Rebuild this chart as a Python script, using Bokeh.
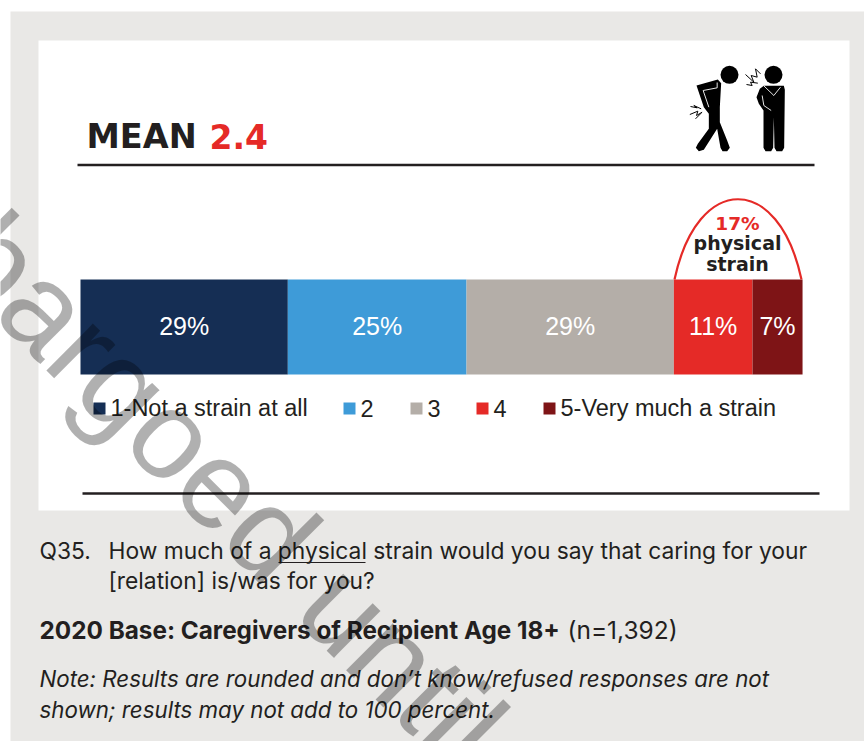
from bokeh.plotting import figure
from bokeh.models import Range1d
from bokeh.core.properties import value
from bokeh.embed import file_html
from bokeh.resources import INLINE

categories = ["1-Not a strain at all", "2", "3", "4", "5-Very much a strain"]
shares = [29, 25, 29, 11, 7]
share_labels = ["29%", "25%", "29%", "11%", "7%"]
colors = ["#152e54", "#3e9bd8", "#b4aea8", "#e52a27", "#7e1416"]
mean_label = "MEAN"
mean_value = "2.4"
net_label = "17%"
question = ["Q35.", "How much of a physical strain would you say that caring for your", "[relation] is/was for you?"]
base_bold = "2020 Base: Caregivers of Recipient Age 18+"
base_n = "(n=1,392)"
note = ["Note: Results are rounded and don\u2019t know/refused responses are not",
        "shown; results may not add to 100 percent."]
watermark = "Embargoed until"

W, H = 864, 741
p = figure(width=W, height=H, output_backend="svg", toolbar_location=None,
           x_range=Range1d(0, W), y_range=Range1d(H, 0),
           x_axis_type=None, y_axis_type=None, min_border=0,
           outline_line_color=None, background_fill_color="white")
p.grid.visible = False
UNIT = 7.149
p.extra_x_ranges["share"] = Range1d(-80 / UNIT, (W - 80) / UNIT)

BODY = value("Inter")
ARIAL = value("Liberation Sans")
DEJAVU = value("DejaVu Sans")
INK = "#231f20"
RISE = 0.4  # Bokeh sets alphabetic text this far (in ems) below its anchor

def txt(x, y, s, size, color=INK, font=ARIAL, style="normal", align="left", **kw):
    p.text([x], [y - RISE * size], text=[s], text_font=font, text_font_size=f"{size}px", text_font_style=style,
           text_color=color, text_align=align, text_baseline="alphabetic", **kw)

# panels
p.quad(left=[10], right=[W], top=[11], bottom=[H], fill_color="#e9e8e6", line_color=None)
p.quad(left=[38], right=[849], top=[40], bottom=[510], fill_color="white", line_color=None)
p.line([77, 814], [164.5, 164.5], line_color=INK, line_width=2.5)
p.line([82, 819], [493, 493], line_color=INK, line_width=2.5)

# title
txt(86, 149, mean_label, 33.5, font=DEJAVU, style="bold")
txt(209, 149, mean_value, 33, font=DEJAVU, color=colors[3], style="bold")

# stacked bar
starts, ends = [], []
acc = 0
for v in shares:
    starts.append(acc); acc += v; ends.append(acc)
mids = [(a + b) / 2 for a, b in zip(starts, ends)]
p.quad(left=starts, right=ends, top=[279] * 5, bottom=[374] * 5, fill_color=colors, line_color=None,
       x_range_name="share")
p.text(mids, [335 - RISE * 25] * 5, text=share_labels, x_range_name="share", text_color="white", text_font=ARIAL,
       text_font_size="25px", text_align="center", text_baseline="alphabetic")

# arch
p.bezier(x0=[674], y0=[279], x1=[801], y1=[279], cx0=[697], cy0=[172], cx1=[778], cy1=[172],
         line_color=colors[3], line_width=2.2)
txt(737, 230, net_label, 18.5, font=DEJAVU, color=colors[3], style="bold", align="center")
txt(737, 250, "physical", 19, font=DEJAVU, style="bold", align="center")
txt(737, 271, "strain", 19, font=DEJAVU, style="bold", align="center")

# legend
sq_x = [93, 343, 410, 476, 543]
p.quad(left=sq_x, right=[x + 12 for x in sq_x], top=[402] * 5, bottom=[414] * 5, fill_color=colors, line_color=None)
p.text([x + 17 for x in sq_x], [417 - RISE * 23.5] * 5, text=categories, text_color=INK, text_font=ARIAL,
       text_font_size="23.5px", text_align="left", text_baseline="alphabetic")

# icon
def ix(v): return [680 + a / 3 for a in v]
def iy(v): return [60 + a / 3 for a in v]
K = "black"
p.circle(ix([147, 279]), iy([43, 43]), radius=9, fill_color=K, line_color=None)
p.patch(ix([48, 112, 122, 118, 118, 140, 148, 140, 126, 120, 110, 70, 55, 46, 52, 85, 85, 70]),
        iy([75, 57, 68, 140, 185, 240, 262, 272, 272, 262, 205, 268, 272, 262, 250, 205, 160, 140]),
        fill_color=K, line_color=None)
p.line(ix([110, 110, 68, 85]), iy([66, 82, 90, 140]), line_color="white", line_width=0.9)
p.patch(ix([250, 310, 313, 311, 305, 288, 282, 280, 278, 272, 255, 249, 249, 235, 228, 238]),
        iy([76, 76, 88, 262, 272, 272, 262, 170, 262, 272, 272, 262, 150, 130, 110, 85]),
        fill_color=K, line_color=None)
p.multi_line([ix([250, 280, 300]), ix([245, 250, 272])], [iy([76, 105, 80]), iy([105, 135, 150])],
             line_color="white", line_width=0.9)
bolts_x = [ix([195, 220, 212, 230, 225, 240]), ix([198, 215, 210, 232]),
           ix([30, 50, 40, 62]), ix([28, 52, 48, 65]), ix([45, 62])]
bolts_y = [iy([42, 65, 45, 50, 25, 40]), iy([72, 75, 65, 68]),
           iy([138, 142, 135, 145]), iy([162, 152, 165, 155]), iy([175, 158])]
p.multi_line(bolts_x, bolts_y, line_color=K, line_width=1)

# notes
txt(39, 559, question[0], 22.8, font=BODY)
txt(108, 559, question[1], 22.8, font=BODY)
txt(108, 589, question[2], 22.8, font=BODY)
p.line([278, 365], [562, 562], line_color=INK, line_width=1)
txt(39, 639, base_bold, 24.3, font=BODY, style="bold")
txt(567, 639, base_n, 24.5, font=BODY)
txt(39, 687, note[0], 22.3, font=BODY, style="italic")
txt(39, 718, note[1], 22.3, font=BODY, style="italic")

# watermark
p.text([-160.5], [102], text=[watermark], angle=[-45], angle_units="deg", text_color="black", text_alpha=0.31,
       text_font=ARIAL, text_font_size="125px", text_align="left", text_baseline="alphabetic")

open("out.html", "w").write(file_html(p, INLINE))
